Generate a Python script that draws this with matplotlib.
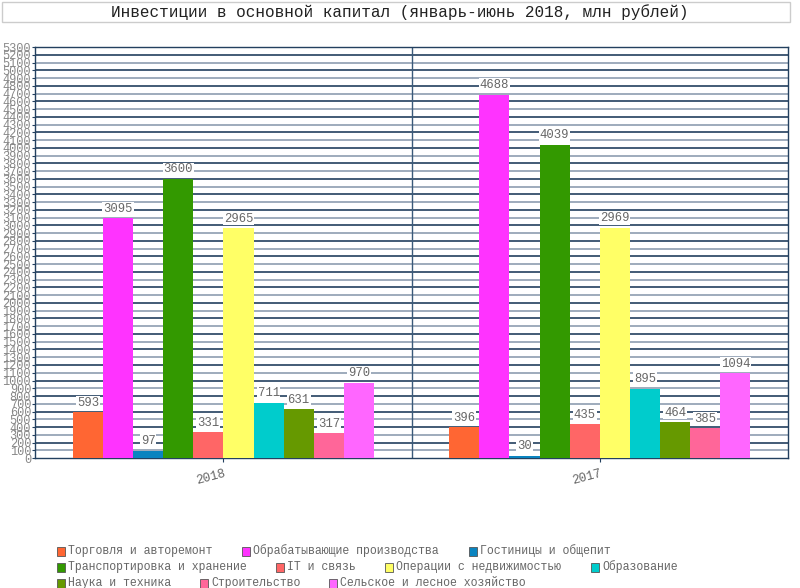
import matplotlib
matplotlib.use("Agg")
import matplotlib.pyplot as plt
from matplotlib.patches import Rectangle
import numpy as np

# ── Data ────────────────────────────────────────────────────────────────────
years = ["2018", "2017"]
sectors = [
    "Торговля и авторемонт",
    "Обрабатывающие производства",
    "Гостиницы и общепит",
    "Транспортировка и хранение",
    "IT и связь",
    "Операции с недвижимостью",
    "Образование",
    "Наука и техника",
    "Строительство",
    "Сельское и лесное хозяйство",
]
values_2018 = [593, 3095, 97, 3600, 331, 2965, 711, 631, 317, 970]
values_2017 = [396, 4688, 30, 4039, 435, 2969, 895, 464, 385, 1094]
colors = ["#ff6633", "#ff33ff", "#0a84c0", "#339900", "#ff6666",
          "#ffff66", "#00cccc", "#669900", "#ff6699", "#ff66ff"]

FONT = "Liberation Mono"
C_DARK = "#23405f"
C_LIGHT = "#8d9db0"
C_TXT = "#666666"

fig = plt.figure(figsize=(8, 5.88), dpi=100)
fig.patch.set_facecolor("white")
ax = fig.add_axes([0.044, 0.221, 0.941, 0.699])

data = np.array([values_2018, values_2017])
n = len(sectors)
bw = 0.8 / n
x = np.arange(len(years))

# gridlines, alternating dark / light
for v in range(100, 5300, 100):
    ax.axhline(v, color=C_DARK if (v // 100) % 2 == 0 else C_LIGHT,
               lw=1.2, zorder=1)
ax.axvline(0.5, color="#3a5a7a", lw=1, zorder=1)

for i in range(n):
    xs = x - 0.4 + bw * (i + 0.5)
    ax.bar(xs, data[:, i], width=bw, color=colors[i], zorder=3,
           edgecolor="none")
    for xx, v in zip(xs, data[:, i]):
        ax.text(xx, v + 45, str(v), ha="center", va="bottom",
                fontsize=8.8, color=C_TXT, family=FONT, zorder=5,
                bbox=dict(fc="white", ec="none", pad=0.6))

ax.set_xlim(-0.5, 1.5)
ax.set_ylim(0, 5300)
ax.set_yticks(range(0, 5301, 100))
ax.set_yticklabels([str(v) for v in range(0, 5301, 100)],
                   fontsize=8.6, color="#888888", family=FONT)
ax.tick_params(axis="y", length=2, pad=1, color=C_DARK)
ax.set_xticks(x)
ax.set_xticklabels(years, rotation=15, fontsize=9, color=C_TXT,
                   family=FONT, ha="right", va="top",
                   rotation_mode="anchor")
ax.tick_params(axis="x", length=3, pad=4, color=C_DARK)
for s in ax.spines.values():
    s.set_color(C_DARK)
    s.set_linewidth(1)

# ── Title box ───────────────────────────────────────────────────────────────
W, H = 800, 588
fig.patches.append(Rectangle((2 / W, 1 - 22 / H), 788 / W, 20 / H,
                             transform=fig.transFigure, fc="white",
                             ec="#cccccc", lw=1))
fig.text(400 / W, 1 - 12 / H,
         "Инвестиции в основной капитал (январь-июнь 2018, млн рублей)",
         ha="center", va="center", fontsize=11.5, color="#222222",
         family=FONT)

# ── Legend (flow layout) ────────────────────────────────────────────────────
leg_pos = [(57, 551), (242, 551), (469, 551),
           (57, 567), (276, 567), (385, 567), (591, 567),
           (57, 583), (200, 583), (329, 583)]
for (px, py), lab, c in zip(leg_pos, sectors, colors):
    fig.patches.append(Rectangle((px / W, 1 - (py + 4.5) / H), 8 / W, 9 / H,
                                 transform=fig.transFigure, fc=c,
                                 ec="#555555", lw=0.6))
    fig.text((px + 11) / W, 1 - py / H, lab, ha="left", va="center",
             fontsize=8.3, color=C_TXT, family=FONT)

fig.savefig("out.png", dpi=100, facecolor="white")
